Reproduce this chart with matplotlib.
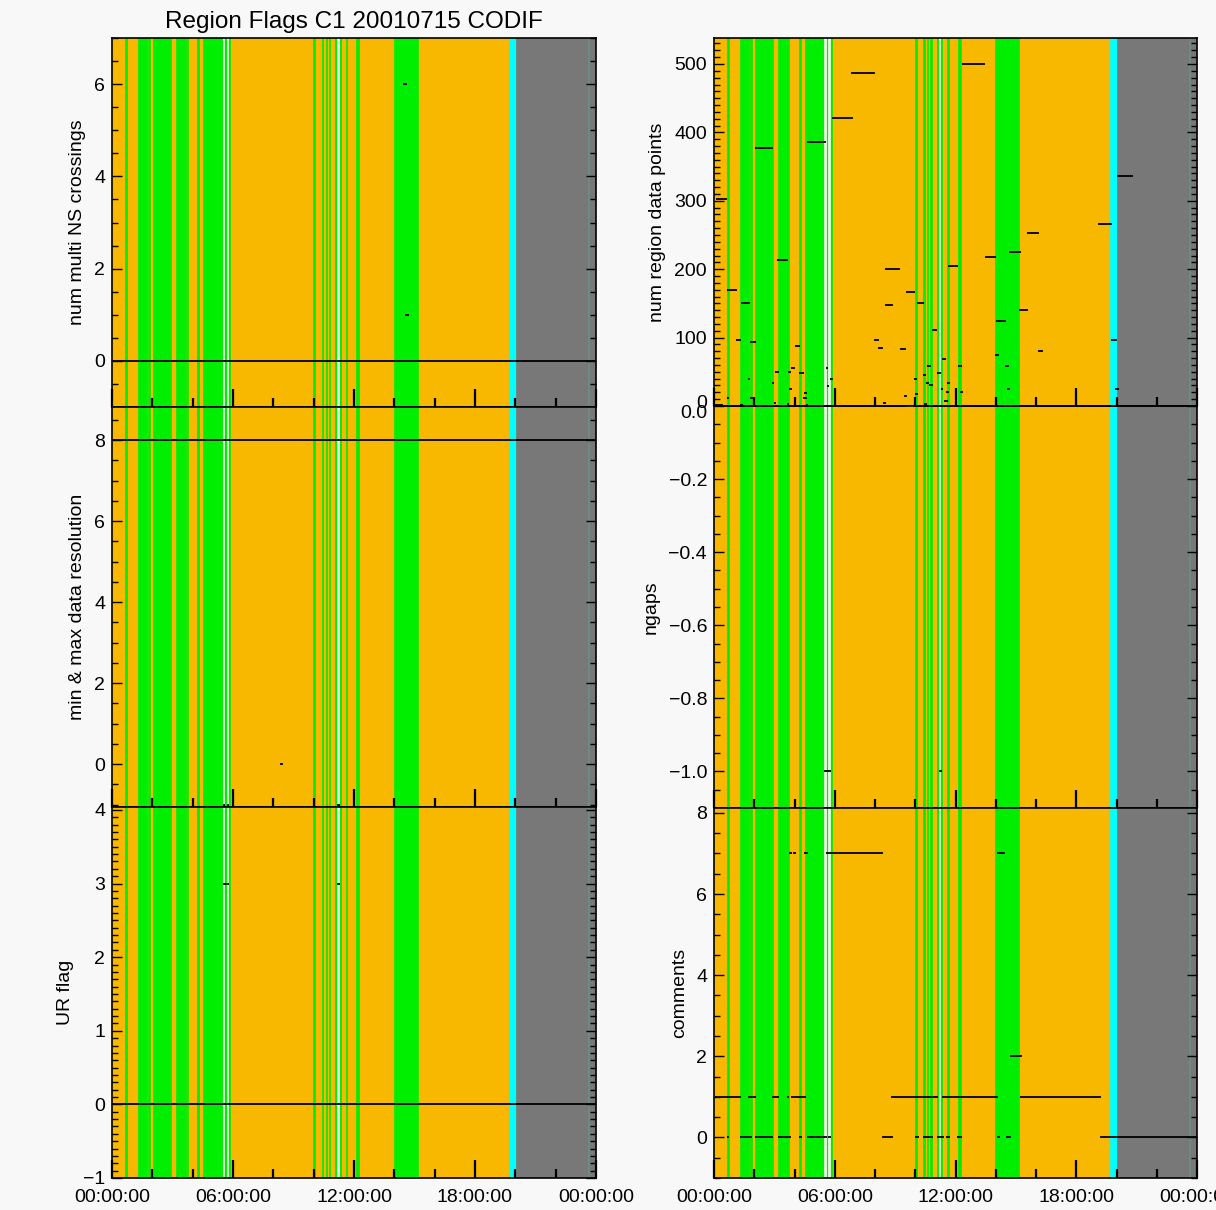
import numpy as np
import matplotlib
matplotlib.use('Agg')
import matplotlib.pyplot as plt
import matplotlib.dates as mdates
from matplotlib.ticker import MultipleLocator
from matplotlib.transforms import ScaledTranslation
import datetime

plt.rcParams['font.family'] = ['Liberation Sans', 'DejaVu Sans']

day = datetime.datetime(2001, 7, 15)

# region flag bands, in hours of the day
green_bands = [(0.64, 0.73), (1.31, 1.72), (1.80, 1.87), (2.05, 2.93), (3.17, 3.66), (3.70, 3.75),
               (4.20, 4.30), (4.50, 5.49), (5.56, 5.68), (5.76, 5.87), (9.98, 10.07), (10.40, 10.46),
               (10.60, 10.65), (10.74, 10.81), (11.07, 11.17), (11.24, 11.34), (11.60, 11.67),
               (12.10, 12.26), (13.98, 15.16)]
pale_bands = [(5.49, 5.56), (5.68, 5.76), (11.17, 11.24)]
cyan_bands = [(19.70, 20.02), (23.60, 23.67)]
gray_bands = [(20.02, 23.60), (23.67, 24.0)]

# num multi NS crossings
ns_start = [0.0, 14.45, 14.53]
ns_end = [24.0, 14.64, 14.73]
ns_val = [0, 6, 1]

# min & max data resolution
res_start = [0.0, 8.33, 5.49, 5.69, 11.18]
res_end = [24.0, 8.50, 5.60, 5.82, 11.31]
res_val = [8, 0, -1, -1, -1]

# UR flag
ur_start = [0.0, 5.50, 11.16]
ur_end = [24.0, 5.80, 11.31]
ur_val = [0, 3, 3]

# num region data points
npts_start = [0.00, 9.91, 0.10, 0.65, 1.33, 1.09, 1.79, 2.04, 3.13, 4.60, 5.88, 6.81, 12.30, 4.02,
              3.03, 3.68, 3.81, 4.22, 1.69, 2.87, 3.73, 4.47, 0.63, 1.79, 2.98, 3.63, 4.42, 4.57,
              1.29, 5.57, 5.60, 5.76, 8.50, 9.54, 8.50, 7.95, 8.13, 9.24, 10.07, 10.82, 11.63,
              13.47, 14.01, 13.96, 11.33, 10.57, 11.08, 12.12, 9.92, 10.39, 10.53, 10.68, 11.26,
              11.58, 11.53, 11.43, 12.22, 9.44, 9.99, 8.38, 10.43, 14.66, 15.54, 19.08, 20.02,
              19.71, 15.16, 16.10, 14.44, 14.54, 19.93, 0.00]
npts_end = [9.58, 24.0, 0.65, 1.14, 1.79, 1.33, 2.09, 2.95, 3.68, 5.57, 6.89, 8.00, 13.47, 4.27,
            3.23, 3.81, 4.01, 4.47, 1.79, 2.98, 3.88, 4.61, 0.75, 1.99, 3.08, 3.73, 4.61, 4.67,
            1.43, 5.66, 5.71, 5.91, 9.24, 9.99, 8.88, 8.20, 8.40, 9.54, 10.43, 11.08, 12.12,
            14.01, 14.51, 14.16, 11.53, 10.77, 11.26, 12.32, 10.07, 10.53, 10.67, 10.87, 11.38,
            11.73, 11.66, 11.61, 12.37, 9.59, 10.14, 8.53, 10.60, 15.24, 16.15, 19.76, 20.82,
            20.02, 15.59, 16.35, 14.64, 14.71, 20.11, 0.45]
npts_val = [0, 0, 302, 169, 150, 97, 93, 377, 214, 386, 421, 487, 500, 87,
            50, 50, 56, 48, 39, 34, 25, 19, 11, 11, 5, 3, 11, 1,
            1, 56, 29, 39, 200, 167, 147, 97, 85, 84, 150, 111, 204,
            218, 124, 74, 68, 59, 48, 59, 39, 46, 34, 30, 25,
            34, 21, 7, 21, 15, 17, 5, 3, 225, 253, 266, 336,
            97, 140, 80, 58, 25, 25, 1]

# ngaps
gap_start = [0.0, 9.91, 5.49, 11.16]
gap_end = [9.58, 24.0, 5.82, 11.31]
gap_val = [0, 0, -1, -1]

# comments
com_start = [0.05, 1.69, 2.88, 3.63, 3.83, 8.80, 11.33, 15.20,
             0.63, 1.29, 2.04, 3.17, 4.22, 4.61, 5.66, 8.33, 9.99, 10.39, 11.06, 11.55, 12.07,
             14.04, 14.51, 19.18,
             3.73, 3.93, 4.47, 5.57, 14.06, 14.69]
com_end = [1.33, 2.09, 3.23, 3.73, 4.57, 11.13, 14.09, 19.22,
           0.75, 1.89, 2.93, 3.83, 4.36, 5.60, 5.80, 8.88, 10.17, 10.88, 11.43, 11.73, 12.32,
           14.21, 14.76, 24.0,
           3.86, 4.06, 4.67, 8.38, 14.46, 15.28]
com_val = [1, 1, 1, 1, 1, 1, 1, 1,
           0, 0, 0, 0, 0, 0, 0, 0, 0, 0, 0, 0, 0,
           0, 0, 0,
           7, 7, 7, 7, 7, 2]

W, H = 1216, 1210
orange = '#F8B800'
green = '#00EE00'


def t(h):
    return mdates.date2num(day) + np.asarray(h, dtype=float) / 24.0


def panel(fig, x0, x1, y0, y1, ylim, major, minor, ylabel, starts, ends, vals, bottom=False):
    ax = fig.add_axes([x0 / W, 1 - y1 / H, (x1 - x0) / W, (y1 - y0) / H])
    ax.set_facecolor(orange)
    for bands, c in [(green_bands, green), (pale_bands, '#F0FFF0'),
                     (cyan_bands, '#00FFFF'), (gray_bands, '#787878')]:
        for a, b in bands:
            ax.axvspan(t(a), t(b), facecolor=c, edgecolor=c, lw=0.5, zorder=0.5)
    ax.hlines(vals, t(starts), t(ends), colors='k', lw=1.3, zorder=3, clip_on=False)
    ax.set_xlim(t(0), t(24))
    ax.set_ylim(ylim)
    ax.xaxis.set_major_locator(mdates.HourLocator(byhour=[0, 6, 12, 18]))
    ax.xaxis.set_minor_locator(mdates.HourLocator(byhour=range(0, 24, 2)))
    ax.xaxis.set_major_formatter(mdates.DateFormatter('%H:%M:%S'))
    ax.yaxis.set_major_locator(MultipleLocator(major))
    ax.yaxis.set_minor_locator(MultipleLocator(minor))
    ax.tick_params(axis='x', which='major', direction='in', length=13, width=1.6,
                   top=False, labelsize=14, pad=8, labelbottom=bottom)
    ax.tick_params(axis='x', which='minor', direction='in', length=6.5, width=1.6, top=False)
    ax.tick_params(axis='y', which='major', direction='in', length=7.5, width=1.0,
                   left=True, right=True, labelsize=14, pad=5)
    ax.tick_params(axis='y', which='minor', direction='in', length=4.5, width=1.0,
                   left=True, right=True)
    for s in ax.spines.values():
        s.set_linewidth(1.2)
    ax.set_ylabel(ylabel, fontsize=14, labelpad=6)
    return ax


def nudge_zero_label(fig, ax, dy_px):
    # shift the label of the zero tick up/down a few pixels (as in the original plot)
    fig.canvas.draw()
    for tk in ax.yaxis.get_major_ticks():
        if abs(tk.get_loc()) < 1e-9:
            tk.label1.set_transform(tk.label1.get_transform()
                                    + ScaledTranslation(0, dy_px / 100, fig.dpi_scale_trans))


fig = plt.figure(figsize=(W / 100, H / 100), dpi=100, facecolor='#F8F8F8')

panel(fig, 112, 596, 38, 407, (-1, 7), 2, 0.5, 'num multi NS crossings', ns_start, ns_end, ns_val)
panel(fig, 112, 596, 407, 807, (-1.06, 8.82), 2, 0.5, 'min & max data resolution',
      res_start, res_end, res_val)
panel(fig, 112, 596, 807, 1178, (-1, 4.04), 1, 0.1, 'UR flag', ur_start, ur_end, ur_val, bottom=True)

ax_pts = panel(fig, 714, 1197, 38, 406, (0, 538), 100, 10, 'num region data points',
               npts_start, npts_end, npts_val)
ax_gap = panel(fig, 714, 1197, 406, 808, (-1.1, 0.0), 0.2, 0.05, 'ngaps', gap_start, gap_end, gap_val)
panel(fig, 714, 1197, 808, 1178, (-1, 8.12), 2, 0.5, 'comments', com_start, com_end, com_val,
      bottom=True)

fig.text(354 / W, 1 - 22 / H, 'Region Flags C1 20010715 CODIF', ha='center', va='center',
         fontsize=17.5)

nudge_zero_label(fig, ax_pts, 5)
nudge_zero_label(fig, ax_gap, -5)

plt.savefig('out.png', dpi=100, facecolor=fig.get_facecolor())
